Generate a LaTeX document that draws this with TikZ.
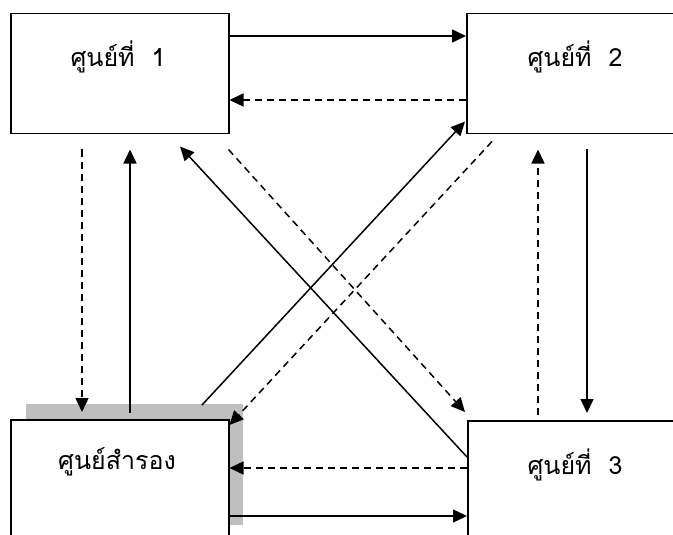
\documentclass[tikz,border=0pt]{standalone}
\usepackage{fontspec}
\newfontfamily\thaifont[Script=Thai]{Loma}
\usetikzlibrary{arrows.meta,calc}
\begin{document}
\begin{tikzpicture}[x=1pt,y=-1pt,
  box/.style={draw,line width=1.5pt,fill=white,rectangle,inner sep=0pt,anchor=north west},
  lbl/.style={font=\thaifont\fontsize{25}{30}\selectfont,inner sep=0pt},
  conn/.style={line width=1.5pt,-{Triangle[length=14pt,width=13pt]}},
  dconn/.style={conn,dash pattern=on 7pt off 5pt},
  shadow/.style={fill=black!25,draw=none,inner sep=0pt,anchor=north west}]
\useasboundingbox (0,0) rectangle (673,535);
\clip (0,0) rectangle (673,535);
% boxes
\node[shadow,minimum width=217pt,minimum height=121pt] (sh) at (26,404) {};
\node[box,minimum width=218pt,minimum height=120pt] (b1) at (10,13) {};
\node[box,minimum width=240pt,minimum height=120pt] (b2) at (466,13) {};
\node[box,minimum width=218pt,minimum height=140pt] (sp) at (10,419) {};
\node[box,minimum width=240pt,minimum height=140pt] (b3) at (467,420) {};
% labels
\node[lbl] (t1) at (118,57) {ศูนย์ที่\ \ 1};
\node[lbl] (t2) at (575,57) {ศูนย์ที่\ \ 2};
\node[lbl] (ts) at (117,462) {ศูนย์สำรอง};
\node[lbl] (t3) at (575,465) {ศูนย์ที่\ \ 3};
% horizontal connectors
\draw[conn] ($(b1.north east)+(0,23)$) -- ($(b2.north west)+(0,23)$);
\draw[dconn] ($(b2.north west)+(0,87)$) -- ($(b1.north east)+(0,87)$);
\draw[dconn] ($(b3.north west)+(0,48)$) -- ($(sp.north east)+(0,49)$);
\draw[conn] ($(sp.north east)+(0,97)$) -- ($(b3.north west)+(0,96)$);
% vertical connectors
\draw[dconn] ($(b1.south west)+(72,15)$) -- ($(sp.north west)+(72,-7)$);
\draw[conn] ($(sp.north west)+(120,-6)$) -- ($(b1.south west)+(120,15)$);
\draw[conn] ($(b2.south west)+(121,15)$) -- ($(b3.north west)+(120,-7)$);
\draw[dconn] ($(b3.north west)+(71,-5)$) -- ($(b2.south west)+(72,15)$);
% diagonal connectors
\draw[conn] ($(b3.north west)+(0,37)$) -- ($(b1.south west)+(170,12)$);
\draw[dconn] ($(b1.south east)+(-1,15)$) -- ($(b3.north west)+(-2,-8)$);
\draw[conn] ($(sp.north west)+(192,-14)$) -- ($(b2.south west)+(-1,-13)$);
\draw[dconn] ($(b2.south west)+(26,7)$) -- ($(sp.north east)+(0,6)$);
\end{tikzpicture}
\end{document}
